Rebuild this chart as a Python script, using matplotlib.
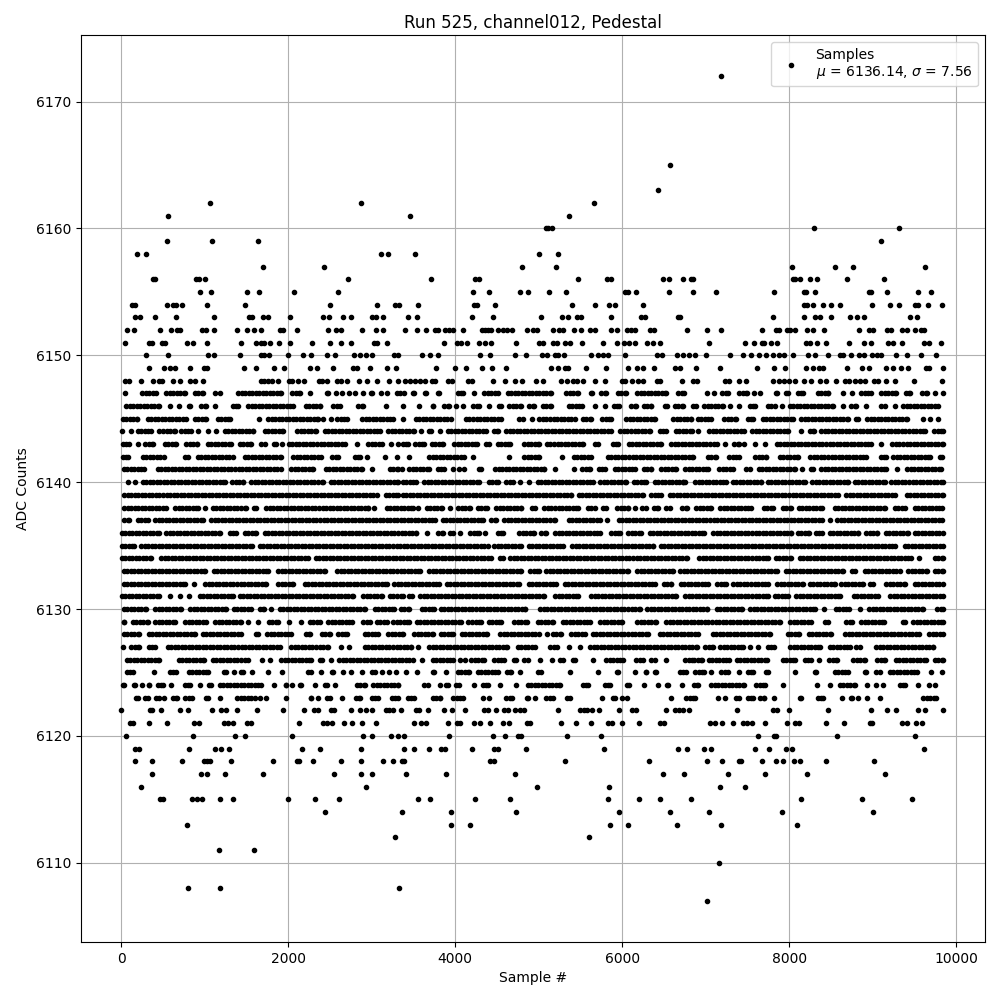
import numpy as np
import matplotlib
matplotlib.use("Agg")
import matplotlib.pyplot as plt

# Values: for each ADC level, the sample numbers carrying a dot.
# An int is one dot; a (first, last) pair is a stretch of touching dots in the dense band.
L6172 = [7185]
L6165 = [6575]
L6163 = [6429]
L6162 = [1062, 2874, 5661]
L6161 = [558, 3465, 5369]
L6160 = [5085, 5115, 5165, 8292, 9310]
L6159 = [546, 1086, 1638, 9094]
L6158 = [186, 298, 3114, 3202, 3525, 5010, 5237]
L6157 = [1698, 2430, 4806, 5213, 8028, 8543, 8759, 9621]
L6156 = [378, 410, 898, 938, 1006, 2718, 3716, 4243, 4283, 5477, 5824, 5864, 6495, 6567, 6734, 6822, 6854, 8044, 8072, 8128, 8244, 8332, 8687, 9134]
L6155 = [942, 1074, 1506, 1650, 2070, 2598, 4219, 4411, 4782, 4878, 5129, 5333, 6040, 6072, 6171, 6567, 6854, 7118, 7813, 8172, 8204, 8304, 8950, 8978, 9166, 9537, 9693]
L6154 = [130, 170, 546, 622, 662, 726, 1026, 1482, 2502, 3066, 3278, 3330, 3561, 4227, 4267, 4483, 5405, 5680, 5848, 5920, 6255, 8172, 8212, 8284, 8404, 8495, 8603, 8986, 9202, 9310, 9510, 9537, 9657, 9825]
L6153 = [170, 222, 410, 654, 1110, 1530, 1570, 1698, 1758, 2022, 2418, 2490, 2658, 2754, 3010, 3050, 3138, 3441, 3549, 4207, 4459, 5034, 5285, 5357, 5465, 5505, 5872, 6231, 6275, 6674, 6694, 7801, 8172, 8304, 8364, 8495, 8723, 8807, 8891, 9441, 9525]
L6152 = [66, 150, 462, 594, 670, 710, 966, 1018, 1110, 1386, 1506, 1590, 1674, 1902, 1942, 2106, 2478, 2574, 2638, 2886, 3054, 3138, 3405, 3549, 3656, 3760, 3800, 3880, 3932, 3972, 4100, 4319, 4359, 4399, 4435, 4519, 4579, 4619, 4686, 4866, 4938, 4986, 5177, 5249, 5297, 5429, 5509, 5617, 5676, 5872, 5944, 6064, 6104, 6155, 6335, 6383, 6782, 7022, 7178, 7669, 7837, 7881, 7972, 8004, 8064, 8212, 8284, 8412, 8831, 8950, 8998, 9166, 9214, 9346, 9410, 9501, 9577, 9609]
L6151 = [42, 330, 370, 490, 530, 786, 858, 1026, 1434, 1610, 1670, 1710, 1782, 1890, 2022, 2286, 2502, 2634, 2754, 3030, 3062, 3186, 3872, 4020, 4072, 4147, 4291, 4363, 4435, 4734, 5010, 5058, 5177, 5225, 5321, 5381, 5517, 5776, 5944, 6028, 6088, 6159, 6303, 6375, 6459, 7046, 7477, 7573, 7669, 7693, 7777, 7853, 8196, 8248, 8328, 8436, 8711, 8902, 8974, 9178, 9238, 9346, 9609, 9669, 9813]
L6150 = [294, 558, 1038, 1110, 1422, 1670, 1710, 1770, 1998, 2178, 2274, 2466, 2562, 2790, 2862, 2938, 3006, 3270, 3310, 3600, 3700, 3800, 4303, 4423, 4722, 4846, 5037, 5097, 5197, 5237, 5309, 5632, 5716, 5776, 5836, 6036, 6415, 6483, 6662, 6734, 6806, 6878, 7000, 7286, 7442, 7537, 7633, 7717, 7801, 7873, 7933, 8044, 8228, 8304, 8463, 8603, 8639, 8743, 8831, 8891, 8990, 9050, 9102, 9282, 9410, 9573, 9753]
L6149 = [330, 510, 582, 650, 830, 990, 1030, 1470, 1610, 1830, 1950, 2262, 2346, 2538, 2778, 2830, 2982, 3186, 3294, 3776, 4004, 4135, 4327, 4447, 4614, 5153, 5237, 5317, 5357, 5573, 5812, 6075, 6183, 6255, 6387, 6638, 6694, 6890, 7166, 7609, 7821, 7945, 8204, 8280, 8352, 8404, 8687, 8867, 8950, 9154, 9238, 9334, 9418, 9641, 9669, 9837]
L6148 = [50, 90, 238, 378, 450, 490, 618, 702, 830, 882, 986, 1670, 1710, 1758, 1810, 1878, 2010, 2042, 2118, 2190, 2370, 2410, 2470, 2582, 2630, 2702, 2850, 2946, 3066, 3210, 3318, 3401, 3461, 3521, 3581, 3641, 3720, 3760, 3920, 3960, 4160, 4200, 4459, 4602, 4718, 4798, 4974, 5058, 5265, 5337, 5417, 5457, 5537, 5680, 5800, 5995, 6035, 6123, 6195, 6255, 6415, 6455, 6722, 6854, 6894, 7234, 7282, 7394, 7489, 7805, 7873, 7933, 7992, 8072, 8172, 8260, 8364, 8447, 8555, 8671, 8711, 8791, 8851, 8911, 9010, 9062, 9154, 9262, 9489, 9825]
L6147 = [42, (252, 420), (540, 770), (880, 980), 1130, 1190, (1400, 1920), (2050, 2140), 2262, (2460, 2480), 2578, 2646, 2730, 2802, 2898, (2990, 3000), 3118, 3190, (3300, 3340), 3389, (3490, 3510), (3640, 3650), (3800, 3810), (4030, 4090), 4229, (4350, 4510), (4630, 5150), (5330, 5470), (5630, 5640), (5750, 5810), (5950, 6050), (6180, 6530), (6670, 6740), 7011, 7095, (7200, 7270), (7400, 7500), 7575, 7655, (7845, 7850), (7965, 7985), (8105, 8165), (8340, 8470), 8643, 8751, (8865, 8985), (9105, 9285), (9395, 9445), (9595, 9645), 9747, 9840]
L6146 = [(60, 460), 590, 690, (810, 820), (960, 1020), 1130, (1340, 1400), (1520, 2060), (2210, 2380), (2540, 2620), (2840, 2900), 3170, 3370, 3573, (3730, 3740), (3870, 3930), 4005, 4100, (4220, 4290), 4400, (4530, 4550), (4650, 4790), (4890, 4940), (5050, 5150), (5360, 5520), 5670, 5790, (5900, 5960), (6110, 6160), (6260, 6350), (6510, 6540), (6630, 6730), (6850, 6890), (6985, 7205), 7287, 7403, (7525, 7590), (7745, 7825), 7915, (8005, 8525), 8643, (8745, 8795), 8920, (9105, 9145), 9265, (9365, 9785)]
L6145 = [(20, 190), (320, 780), (880, 1020), (1160, 1300), 1650, (1760, 2360), 2422, 2510, (2590, 2700), (2890, 3260), 3381, (3530, 3950), (4130, 4550), (4770, 4810), 4921, (5010, 5430), (5530, 5630), (5760, 5870), (6050, 6390), (6610, 6825), (6905, 7065), (7225, 7365), (7505, 7565), (7685, 8045), (8145, 8705), (8805, 8825), (8935, 9405), 9600, 9687, 9783]
L6144 = [10, 118, (200, 360), (460, 640), (720, 840), 918, 1038, 1138, (1240, 1580), (1720, 1940), (2110, 2340), (2440, 3100), (3200, 3510), 3589, (3690, 3710), 3813, (3910, 4370), (4460, 4510), (4610, 5870), (5980, 6330), (6450, 6530), (6640, 6835), 6905, (7045, 7465), (7555, 7985), 8145, (8245, 8295), (8385, 9625), (9735, 9840)]
L6143 = [(20, 100), 198, (290, 380), (520, 660), (780, 910), (1040, 1320), (1420, 1560), (1680, 1720), (1830, 1860), 1930, (2010, 2680), 2830, (2960, 3120), 3230, 3310, (3371, 3430), (3520, 3630), (3720, 3850), (3990, 4260), (4370, 4410), (4510, 4660), (4830, 5010), (5100, 5530), (5670, 5710), (5890, 5950), (6080, 6470), (6590, 7130), 7235, (7345, 7405), 7455, 7585, 7715, (7853, 8985), 9095, (9237, 9840)]
L6142 = [(20, 80), (260, 510), (760, 800), (920, 1340), (1480, 1920), (2060, 2390), (2530, 2600), (2800, 2860), 2950, 3162, 3302, 3450, (3690, 4110), 4209, 4650, (4830, 5010), 5281, (5420, 5630), (5830, 6845), (7025, 7125), (7285, 7405), (7595, 7725), (7885, 8105), (8255, 8925), (9095, 9155), (9245, 9685), (9805, 9825)]
L6141 = [(30, 280), (440, 1910), (2040, 2300), (2450, 2880), 3010, (3220, 3320), 3361, (3450, 3690), (3790, 3870), 3973, 4041, 4101, (4280, 4310), (4480, 5070), 5190, 5421, (5520, 5620), (5720, 5790), (5910, 6150), (6260, 6350), (6470, 6650), (6757, 7025), (7165, 7325), (7485, 7525), (7637, 8065), 8155, (8265, 8285), (8385, 9165), 9287, (9413, 9817)]
L6140 = [80, 170, (260, 1240), (1330, 1460), (1560, 2420), (2510, 3320), (3371, 3530), (3630, 4290), (4400, 4510), (4610, 4690), 4773, 4881, (4990, 5650), (5740, 6050), (6140, 6290), (6390, 6730), 6755, (6877, 7245), (7325, 7665), (7745, 8185), (8277, 8705), (8785, 9145), (9225, 9840)]
L6139 = [(40, 3060), (3170, 3320), (3371, 5390), (5480, 6250), (6350, 6470), (6570, 8585), (8685, 9265), (9405, 9840)]
L6138 = [(40, 540), (650, 920), 1010, (1100, 1500), (1590, 1610), (1740, 2960), 3030, (3180, 3500), 3561, (3660, 3840), 3941, (4040, 4180), (4270, 4380), (4490, 4790), (4920, 4960), (5070, 5470), (5590, 5670), (5770, 5810), (5940, 6070), 6153, (6240, 6280), (6380, 6430), (6530, 6570), (6720, 6780), (6885, 7065), (7177, 7545), (7693, 7805), (7925, 8017), (8113, 8393), (8545, 9153), (9265, 9385), (9505, 9825)]
L6137 = [(40, 100), (200, 320), (410, 980), (1080, 3760), (3850, 4330), (4430, 4490), (4590, 5190), (5360, 5730), 5821, (5960, 8393), 8483, (8573, 9825)]
L6136 = [(10, 460), (540, 1190), (1300, 1380), (1480, 1610), (1720, 3530), 3661, (3800, 3850), (3940, 3970), 4053, (4180, 4290), 4361, (4510, 4570), (4770, 4940), (5030, 5090), (5200, 5740), (5870, 5980), (6070, 6230), (6330, 6985), (7093, 8025), (8105, 8233), (8317, 8393), (8485, 8825), (8925, 9057), (9157, 9425), (9505, 9840)]
L6135 = [(10, 160), (240, 1570), (1660, 4390), (4470, 4790), (4880, 5290), (5400, 6370), (6460, 9265), (9385, 9840)]
L6134 = [(10, 360), (480, 2240), (2330, 4430), (4540, 4570), (4660, 6777), (6925, 7745), (7837, 8025), (8125, 9457), 9551, (9745, 9840)]
L6133 = [(30, 1000), (1110, 1760), (1880, 2440), (2590, 3580), (3690, 4790), (4900, 5000), (5090, 6070), (6180, 6610), (6693, 7849), (7957, 8645), (8757, 8793), (8905, 9325), (9425, 9645), (9745, 9840)]
L6132 = [(30, 770), 870, (1010, 1740), (1880, 2060), (2200, 3180), (3270, 3810), (3900, 4770), (4880, 5210), (5310, 6390), (6500, 6590), (6700, 7025), (7137, 7245), (7333, 7745), (7857, 8165), (8245, 8545), (8625, 8885), (8973, 9005), (9165, 9385), (9505, 9840)]
L6131 = [(10, 460), 580, 705, 810, (940, 1340), (1420, 2780), (2900, 3120), (3220, 3371), (3450, 3480), (3580, 5070), (5200, 5470), (5630, 6650), (6757, 7745), (7825, 7985), (8085, 8605), (8773, 9065), (9213, 9840)]
L6130 = [(30, 300), (410, 720), (830, 1260), (1350, 1560), (1660, 1710), 1790, (1900, 2920), (3040, 3270), (3350, 3450), (3600, 3750), (3830, 4840), (5020, 6210), (6300, 7017), (7133, 7433), (7533, 8313), 8415, (8557, 8713), 8851, (8957, 9605), (9773, 9840)]
L6129 = [(30, 40), (140, 320), (410, 650), (770, 1020), (1130, 1430), 1518, 1638, (1770, 1880), 2010, 2150, (2260, 2380), (2480, 2770), (2900, 2980), (3060, 3180), (3260, 3450), (3540, 4070), (4160, 4310), (4400, 4550), (4710, 4860), (4990, 5170), (5290, 5610), (5740, 6000), (6180, 6410), (6530, 7885), (8013, 8257), (8425, 8465), (8685, 8753), (8865, 9137), (9365, 9385), (9485, 9840)]
L6128 = [(30, 210), (330, 880), (980, 1440), (1610, 1640), (1750, 2040), (2210, 2260), (2400, 2500), (2600, 2700), (2920, 3080), (3200, 3371), (3510, 3740), (3830, 3970), (4080, 4380), (4540, 5000), 5101, (5170, 5270), (5390, 5550), (5650, 6310), (6450, 6905), (7085, 7765), (7985, 8113), (8237, 8497), (8673, 9553), (9677, 9840)]
L6127 = [20, (120, 210), (330, 410), (560, 1900), (2040, 2480), 2634, 2730, (2920, 3470), 3557, (3690, 4620), (4750, 4960), (5140, 5220), 5361, 5497, (5620, 6897), (6997, 7085), (7173, 7445), 7535, 7623, (7745, 7817), (8013, 8365), (8485, 8725), (8805, 8845), (9045, 9725)]
L6126 = [(70, 450), (690, 990), (1100, 1520), 1686, 1782, (1920, 2280), (2380, 2410), 2518, (2610, 3490), 3601, (3730, 3970), 4053, 4117, (4190, 4340), (4470, 4590), (4700, 4730), (4830, 4870), 5021, 5161, (5260, 5290), (5410, 5430), 5653, (5810, 6010), (6170, 6250), (6350, 6390), 6530, (6755, 6860), (6905, 6953), (7037, 7285), (7373, 7737), (7925, 8065), (8185, 8257), 8355, (8477, 8577), (8765, 8913), (9053, 9153), (9277, 9633), (9745, 9840)]
L6125 = [(70, 140), 390, (580, 660), (810, 1040), (1230, 1260), 1355, (1440, 1460), 1570, 1758, 1926, (2240, 2280), 2390, (2520, 2540), 2658, 2750, 2890, (3000, 3040), 3130, 3210, 3290, 3413, 3541, (3730, 3750), 3885, (4030, 4170), (4270, 4510), (4620, 4670), 4773, (4990, 5030), 5370, 5709, (5940, 5950), 6153, (6280, 6290), (6390, 6410), (6690, 6770), (6875, 6975), 7063, (7185, 7265), 7403, (7505, 7565), (7725, 7745), 8075, (8305, 8325), (8545, 8705), (8905, 8925), (9045, 9085), (9205, 9525), 9695, 9835]
L6124 = [(20, 30), (160, 170), 250, (330, 340), (440, 500), 602, (760, 820), 950, (1050, 1080), (1180, 1670), 1830, (1970, 1980), 2050, (2140, 2160), 2322, (2440, 2460), 2562, (2820, 2920), (3020, 3320), (3630, 3670), 3813, (3890, 3920), (4010, 4050), 4221, (4330, 4390), 4533, 4725, (4870, 5260), (5530, 5590), (5790, 5850), (6060, 6080), 6261, 6430, (6540, 6550), 6713, (6860, 6910), (7065, 7465), (7605, 7705), 7923, 8335, 8487, (8605, 8785), 8935, 9039, 9123, (9325, 9385), 9543, 9675, 9747]
L6123 = [(180, 200), (290, 320), (420, 450), 510, (620, 670), (770, 850), (1020, 1040), 1190, (1390, 1600), 1662, 1730, 1978, (2270, 2280), 2358, (2470, 2500), 2646, (2810, 2860), (3000, 3080), (3240, 3320), (3431, 3510), (3730, 3820), (3980, 4100), 4329, 4401, (4610, 4680), (4860, 4870), 4953, (5090, 5170), (5340, 5370), 5757, (5890, 5920), 6001, 6061, 6585, (6770, 6870), 7143, 7227, (7365, 7405), (7505, 7565), (7655, 7700), 7815, (8125, 8145), (8345, 8410), 8631, (8745, 8755), 8823, 8931, 9085, (9605, 9755)]
L6122 = [0, 350, 374, 474, 702, 798, 1086, 1198, 1258, 1390, 1630, 1938, 2190, 2310, 2358, 2510, 2550, 2758, 2862, 2934, 3006, 3170, 3210, 3262, 3349, 3529, 3569, 3681, 3861, 3957, 4113, 4341, 4389, 4485, 4581, 4633, 4713, 4773, 4825, 5229, 5501, 5541, 5581, 5641, 5721, 5961, 6121, 6161, 6525, 6633, 6681, 6733, 6801, 7371, 7807, 7855, 7995, 8463, 8979, 9171, 9279, 9543, 9627, 9842]
L6121 = [110, 142, 330, 546, 870, 930, 1230, 1278, 1342, 1510, 1550, 2130, 2418, 2470, 2526, 2670, 2766, 2886, 3054, 3513, 3597, 3657, 3909, 4021, 4061, 4229, 4293, 4413, 4569, 4641, 4861, 4901, 5265, 5445, 5625, 5829, 5877, 5997, 6201, 6453, 6501, 7055, 7115, 7195, 7323, 7443, 7495, 7555, 7707, 7971, 8075, 8115, 8439, 8655, 8963, 8995, 9351, 9415, 9519, 9591]
L6120 = [54, 858, 1362, 1482, 2046, 2898, 3006, 3234, 3318, 3393, 3921, 4449, 4593, 4749, 4789, 5337, 5745, 7623, 7815, 7847, 8571, 9507]
L6119 = [170, 218, 810, 1122, 1194, 1290, 2166, 2382, 2874, 3393, 3513, 3693, 3829, 3881, 4197, 4469, 4509, 4845, 5781, 6669, 6777, 6983, 7063, 7587, 7755, 7959, 8031, 9615]
L6118 = [162, 366, 726, 990, 1030, 1070, 1314, 1818, 2102, 2130, 2298, 2634, 2874, 3138, 3258, 3361, 3389, 4421, 4469, 5313, 6321, 7011, 7191, 7395, 7427, 7679, 7839, 7923, 8055, 8127, 8439, 9015]
L6117 = [366, 954, 1030, 1242, 1698, 2550, 2874, 3006, 3417, 3885, 4713, 6489, 6741, 7263, 7707, 8211, 9147]
L6116 = [234, 2934, 4977, 5841, 7167, 7467]
L6115 = [470, 498, 846, 910, 970, 1182, 1338, 1998, 2322, 2610, 3561, 3705, 4233, 4653, 5829, 6201, 6453, 6825, 8139, 8871, 9471]
L6114 = [2442, 3361, 3945, 4725, 5961, 6573, 7035, 7911, 9003]
L6113 = [786, 3945, 4173, 5853, 6069, 6657, 7179, 8091]
L6112 = [3282, 5601]
L6111 = [1170, 1590]
L6110 = [7155]
L6108 = [798, 1182, 3330]
L6107 = [7011]

levels = [6172, 6165, 6163, 6162, 6161, 6160, 6159, 6158, 6157, 6156, 6155, 6154, 6153, 6152, 6151, 6150, 6149, 6148, 6147, 6146, 6145, 6144, 6143, 6142, 6141, 6140, 6139, 6138, 6137, 6136, 6135, 6134, 6133, 6132, 6131, 6130, 6129, 6128, 6127, 6126, 6125, 6124, 6123, 6122, 6121, 6120, 6119, 6118, 6117, 6116, 6115, 6114, 6113, 6112, 6111, 6110, 6108, 6107]
rows = [L6172, L6165, L6163, L6162, L6161, L6160, L6159, L6158, L6157, L6156, L6155, L6154, L6153, L6152, L6151, L6150, L6149, L6148, L6147, L6146, L6145, L6144, L6143, L6142, L6141, L6140, L6139, L6138, L6137, L6136, L6135, L6134, L6133, L6132, L6131, L6130, L6129, L6128, L6127, L6126, L6125, L6124, L6123, L6122, L6121, L6120, L6119, L6118, L6117, L6116, L6115, L6114, L6113, L6112, L6111, L6110, L6108, L6107]

title = "Run 525, channel012, Pedestal"
mean_adc = 6136.14
std_adc = 7.56

xs, ys = [], []
for level, row in zip(levels, rows):
    for item in row:
        if isinstance(item, tuple):
            pts = list(np.arange(item[0], item[1], 42)) + [item[1]]
        else:
            pts = [item]
        xs.extend(pts)
        ys.extend([level] * len(pts))

fig, ax = plt.subplots(figsize=(10, 10), dpi=100)
ax.plot(xs, ys, "k.", label=f"Samples\n$\\mu$ = {mean_adc:.2f}, $\\sigma$ = {std_adc:.2f}")
ax.set_title(title, pad=5)
ax.set_xlabel("Sample #")
ax.set_ylabel("ADC Counts")
ax.set_xlim(-480, 10345)
ax.grid(True)
ax.legend(loc="upper right")
fig.subplots_adjust(left=0.081, right=0.985, top=0.965, bottom=0.058)
fig.savefig("out.png", dpi=100)
